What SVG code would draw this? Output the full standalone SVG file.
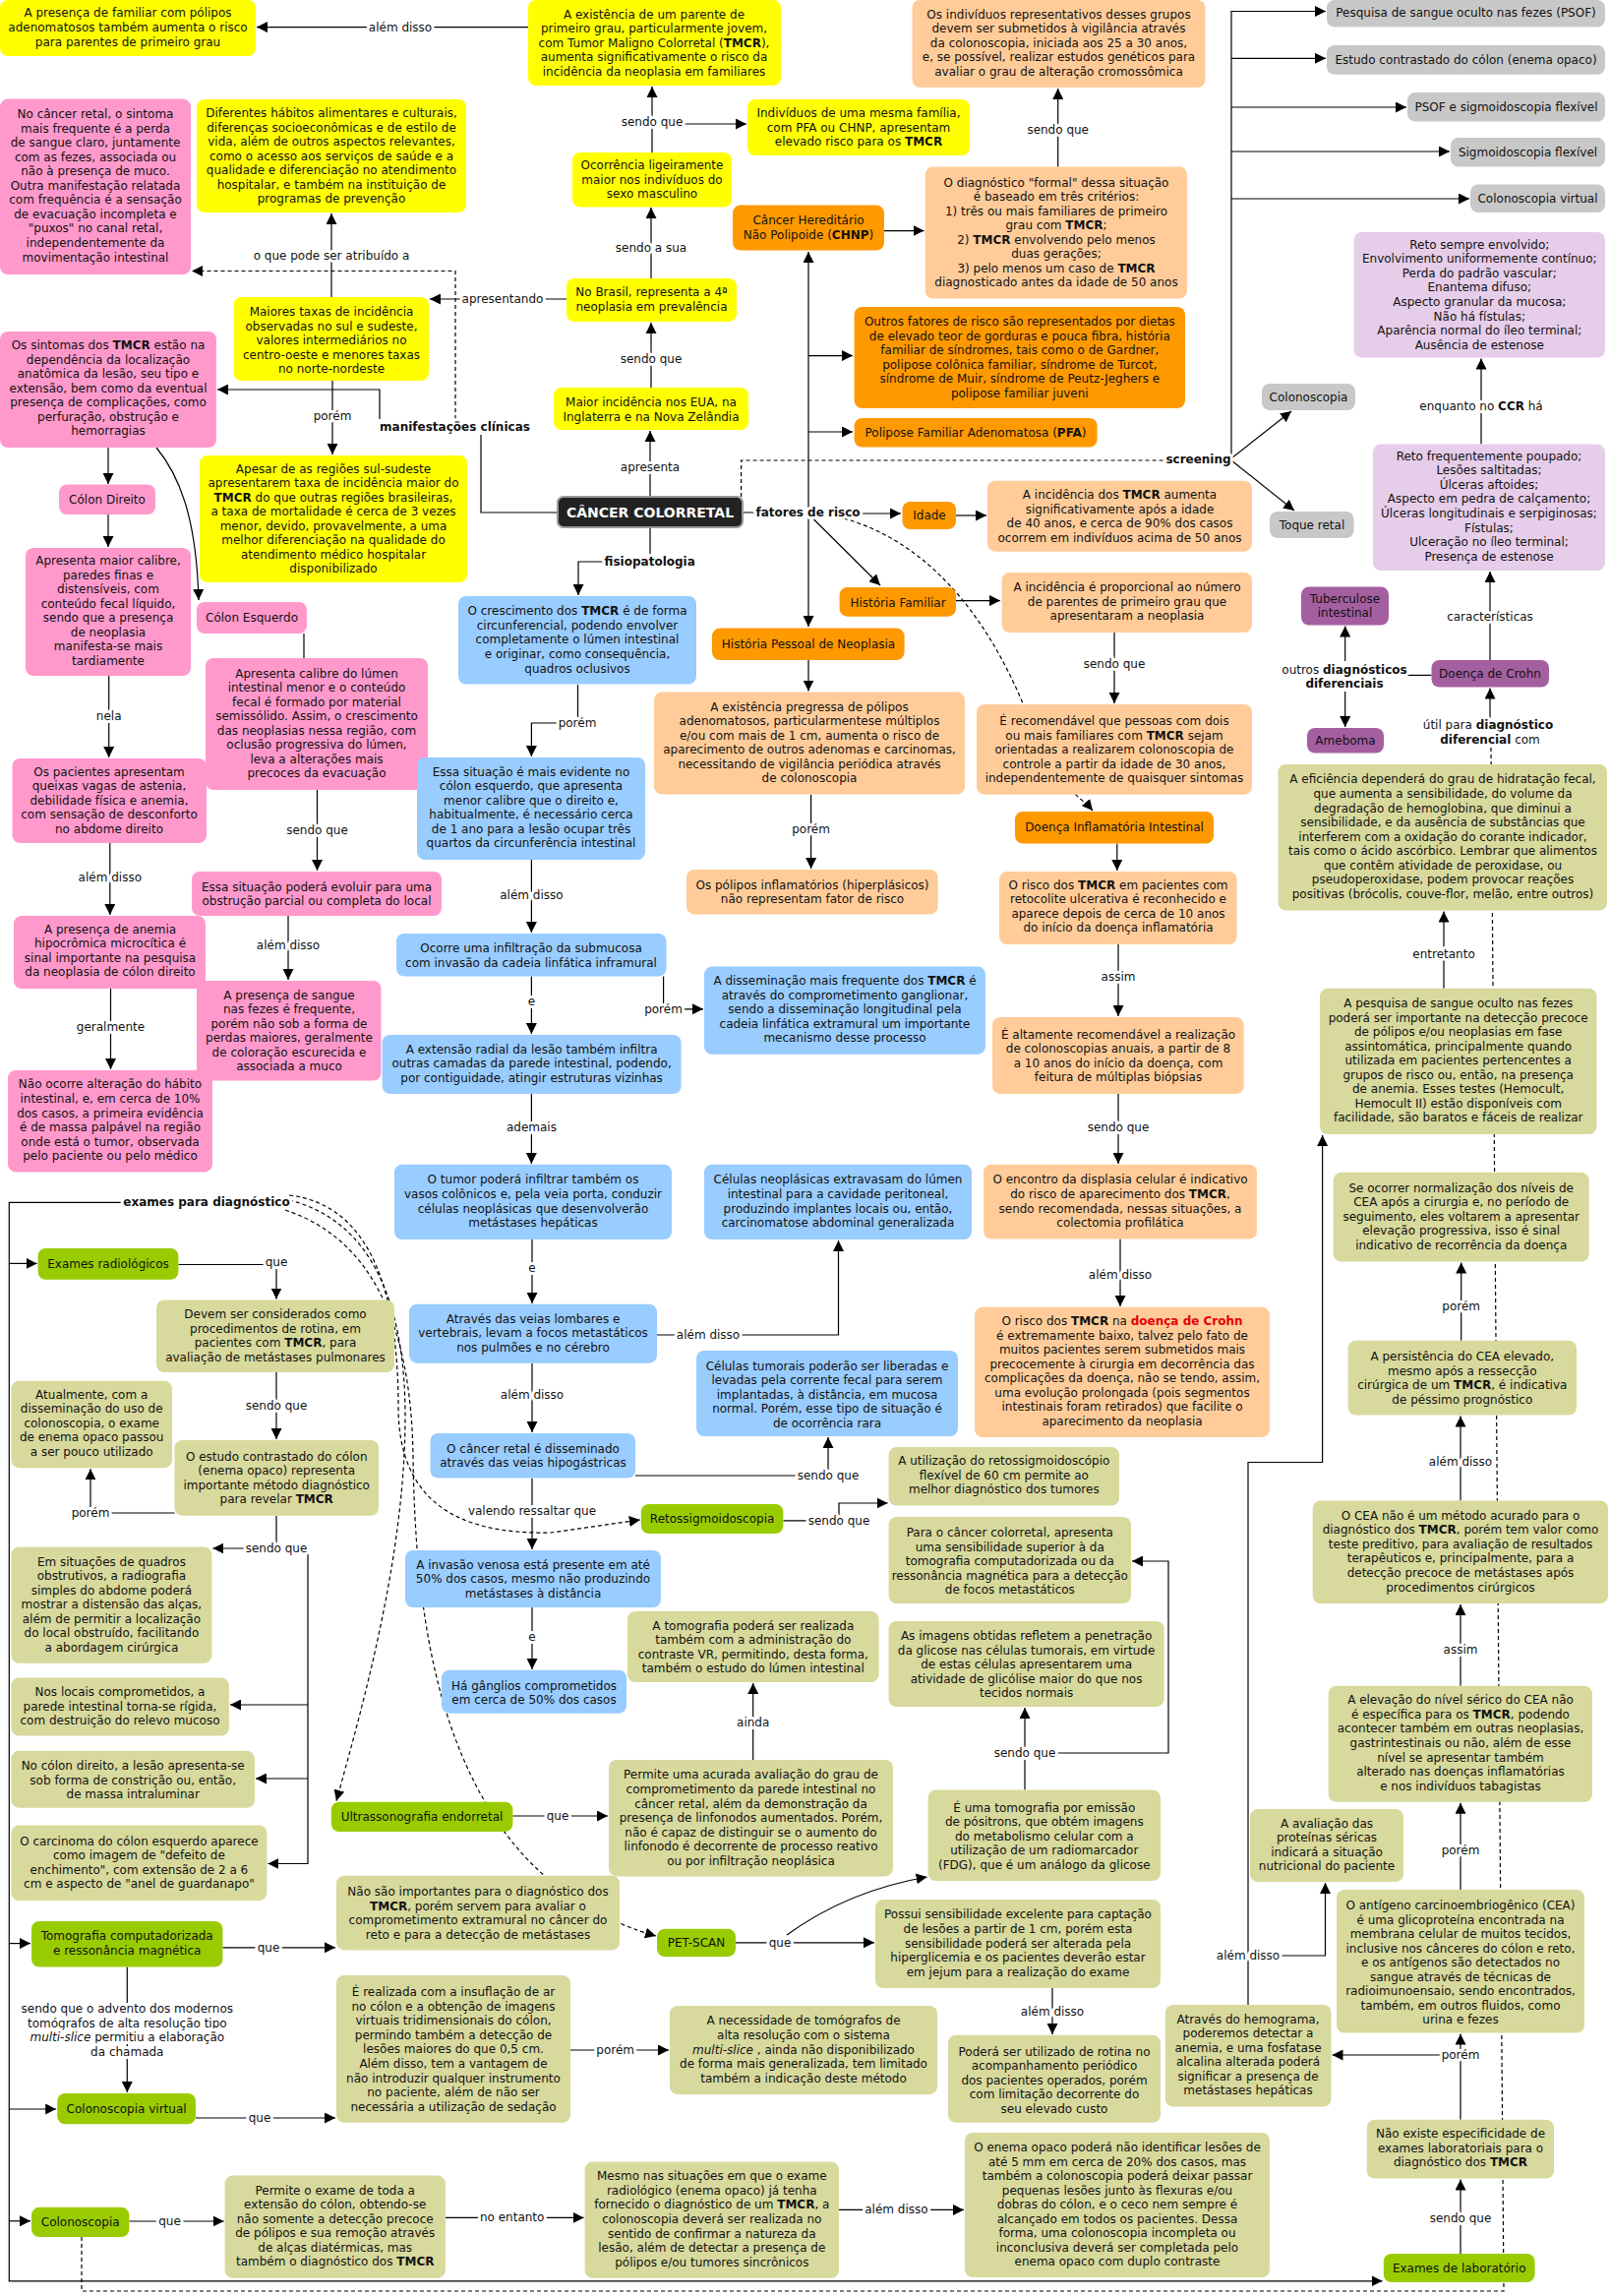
<svg xmlns="http://www.w3.org/2000/svg" width="1637" height="2334" viewBox="0 0 1637 2334">
<style>
text{font-family:"DejaVu Sans",Verdana,sans-serif;font-size:12px;fill:#111;text-anchor:middle}
.b{font-weight:bold}
.i{font-style:italic}
.lb{paint-order:stroke;stroke:#fff;stroke-width:6px;stroke-linejoin:round}
.c{fill:none;stroke:#000;stroke-width:1.2}
.d{stroke-dasharray:4,3}
.Y{fill:#ffff00}.P{fill:#ff99cc}.O{fill:#ff9900}.L{fill:#ffcc99}.B{fill:#99ccff}.G{fill:#c8c8c8}.V{fill:#e6cde9}.U{fill:#a45fa1}.K{fill:#d8d99c}.E{fill:#99cc00}
</style>
<defs>
<marker id="a" viewBox="0 0 10 10" refX="10" refY="5" markerWidth="11" markerHeight="11" markerUnits="userSpaceOnUse" orient="auto"><path d="M0,0 L10,5 L0,10 z" fill="#000"/></marker>
</defs>
<rect width="1637" height="2334" fill="#fff"/>
<g id="connectors">
<path class="c" d="M537,27.6 H261" marker-end="url(#a)"/>
<path class="c" d="M663,155 V88" marker-end="url(#a)"/>
<path class="c" d="M663,126 H759" marker-end="url(#a)"/>
<path class="c" d="M662,283 V211" marker-end="url(#a)"/>
<path class="c" d="M576,304 H437" marker-end="url(#a)"/>
<path class="c" d="M662,394 V328" marker-end="url(#a)"/>
<path class="c" d="M661,505 V438" marker-end="url(#a)"/>
<path class="c" d="M337,302 V217" marker-end="url(#a)"/>
<path class="c" d="M338,387 V462" marker-end="url(#a)"/>
<path class="c" d="M567,521 H489 V442"/>
<path class="c" d="M386,426 V396 H221" marker-end="url(#a)"/>
<path class="c d" d="M463,426 V275.5 H195" marker-end="url(#a)"/>
<path class="c" d="M110,455 V492" marker-end="url(#a)"/>
<path class="c" d="M110,523 V556" marker-end="url(#a)"/>
<path class="c" d="M159,455 C188,490 200,540 202,610" marker-end="url(#a)"/>
<path class="c" d="M309,644 V669"/>
<path class="c" d="M110.7,687 V770" marker-end="url(#a)"/>
<path class="c" d="M322.5,803 V885" marker-end="url(#a)"/>
<path class="c" d="M111.8,857 V930" marker-end="url(#a)"/>
<path class="c" d="M293,931 V996" marker-end="url(#a)"/>
<path class="c" d="M112.5,1005 V1087" marker-end="url(#a)"/>
<path class="c" d="M661,536 V563"/>
<path class="c" d="M615,571 H588 V605" marker-end="url(#a)"/>
<path class="c" d="M587.5,696 V735 H540.4 V769" marker-end="url(#a)"/>
<path class="c" d="M540.4,874 V948" marker-end="url(#a)"/>
<path class="c" d="M540.4,992.5 V1051" marker-end="url(#a)"/>
<path class="c" d="M674.6,992.5 V1025.8 H715" marker-end="url(#a)"/>
<path class="c" d="M540.4,1112 V1183" marker-end="url(#a)"/>
<path class="c" d="M541,1260 V1325" marker-end="url(#a)"/>
<path class="c" d="M668,1357 H852.5 V1261" marker-end="url(#a)"/>
<path class="c" d="M541,1386 V1456" marker-end="url(#a)"/>
<path class="c" d="M646,1500 H842 V1461" marker-end="url(#a)"/>
<path class="c" d="M541,1502.5 V1575" marker-end="url(#a)"/>
<path class="c" d="M541,1634 V1697" marker-end="url(#a)"/>
<path class="c" d="M755,521 H874"/>
<path class="c" d="M874,522 H916" marker-end="url(#a)"/>
<path class="c" d="M972,524 H1003" marker-end="url(#a)"/>
<path class="c" d="M822,521 V256" marker-end="url(#a)"/>
<path class="c" d="M822,521 V637" marker-end="url(#a)"/>
<path class="c" d="M822,361.6 H867" marker-end="url(#a)"/>
<path class="c" d="M822,439 H867" marker-end="url(#a)"/>
<path class="c" d="M827.5,528 L895,595" marker-end="url(#a)"/>
<path class="c" d="M972,610.6 H1017" marker-end="url(#a)"/>
<path class="c" d="M1133,643 V715" marker-end="url(#a)"/>
<path class="c d" d="M858,527 C940,550 1000,620 1040,715 S1095,805 1111,824" marker-end="url(#a)"/>
<path class="c" d="M899,234.6 H939.5" marker-end="url(#a)"/>
<path class="c" d="M1075.7,169.5 V90" marker-end="url(#a)"/>
<path class="c" d="M1135.8,857.5 V885" marker-end="url(#a)"/>
<path class="c" d="M1137,960 V1033" marker-end="url(#a)"/>
<path class="c" d="M1137,1112 V1183" marker-end="url(#a)"/>
<path class="c" d="M1139,1259.5 V1328" marker-end="url(#a)"/>
<path class="c" d="M822,671 V702.6" marker-end="url(#a)"/>
<path class="c" d="M824.6,807.7 V883" marker-end="url(#a)"/>
<path class="c d" d="M753.6,505 V468 H1186"/>
<path class="c" d="M1252,467 V11.5 H1348" marker-end="url(#a)"/>
<path class="c" d="M1252,59.3 H1348" marker-end="url(#a)"/>
<path class="c" d="M1252,109 H1430" marker-end="url(#a)"/>
<path class="c" d="M1252,154 H1474" marker-end="url(#a)"/>
<path class="c" d="M1252,202 H1494" marker-end="url(#a)"/>
<path class="c" d="M1252,466 L1313,418" marker-end="url(#a)"/>
<path class="c" d="M1252,468 L1316,519" marker-end="url(#a)"/>
<path class="c" d="M1506,451.6 V364.5" marker-end="url(#a)"/>
<path class="c" d="M1515,671 V581" marker-end="url(#a)"/>
<path class="c" d="M1455.5,686.4 H1431"/>
<path class="c" d="M1367.7,672 V636.5" marker-end="url(#a)"/>
<path class="c" d="M1367.7,703 V739" marker-end="url(#a)"/>
<path class="c" d="M1515,730 V699.5" marker-end="url(#a)"/>
<path class="c d" d="M83,2274 V2329 H1529 L1516,760"/>
<path class="c" d="M1468,1004.8 V926.6" marker-end="url(#a)"/>
<path class="c" d="M1269,2038 V1486.5 H1344.6 V1154" marker-end="url(#a)"/>
<path class="c" d="M1269,1988 H1347.5 V1914" marker-end="url(#a)"/>
<path class="c" d="M1485.7,1362.8 V1283.5" marker-end="url(#a)"/>
<path class="c" d="M1485,1525.5 V1439.6" marker-end="url(#a)"/>
<path class="c" d="M1485,1713.8 V1631" marker-end="url(#a)"/>
<path class="c" d="M1485,1921 V1832.7" marker-end="url(#a)"/>
<path class="c" d="M1485,2154.8 V2067.5" marker-end="url(#a)"/>
<path class="c" d="M1485,2089 H1354.5" marker-end="url(#a)"/>
<path class="c" d="M1485,2291 V2215.6" marker-end="url(#a)"/>
<path class="c" d="M125,1222.4 H9.3 V2318.8 H1405.5" marker-end="url(#a)"/>
<path class="c" d="M9.3,1284.4 H37.6" marker-end="url(#a)"/>
<path class="c" d="M9.3,1975.6 H31" marker-end="url(#a)"/>
<path class="c" d="M9.3,2144 H57.2" marker-end="url(#a)"/>
<path class="c" d="M9.3,2257.8 H31" marker-end="url(#a)"/>
<path class="c" d="M181.4,1285.5 H281 V1320.5" marker-end="url(#a)"/>
<path class="c" d="M281,1395 V1463" marker-end="url(#a)"/>
<path class="c" d="M177.5,1538 H92 V1493.2" marker-end="url(#a)"/>
<path class="c" d="M281,1540.8 V1574 H216.4" marker-end="url(#a)"/>
<path class="c" d="M281,1574 H313 V1894.5 H272.4" marker-end="url(#a)"/>
<path class="c" d="M313,1733 H234" marker-end="url(#a)"/>
<path class="c" d="M313,1808 H260" marker-end="url(#a)"/>
<path class="c" d="M226.4,1979.8 H341" marker-end="url(#a)"/>
<path class="c" d="M129.3,1999.5 V2127" marker-end="url(#a)"/>
<path class="c" d="M199,2153 H341" marker-end="url(#a)"/>
<path class="c" d="M131.4,2258 H227.6" marker-end="url(#a)"/>
<path class="c" d="M452.9,2254.4 H593.6" marker-end="url(#a)"/>
<path class="c" d="M853,2246.4 H980" marker-end="url(#a)"/>
<path class="c" d="M580,2084 H680" marker-end="url(#a)"/>
<path class="c" d="M521.4,1846 H618" marker-end="url(#a)"/>
<path class="c" d="M765.7,1789 V1711" marker-end="url(#a)"/>
<path class="c" d="M748,1974.8 H889" marker-end="url(#a)"/>
<path class="c" d="M800,1967 Q862,1922 942.6,1908" marker-end="url(#a)"/>
<path class="c" d="M1042,1819.5 V1736" marker-end="url(#a)"/>
<path class="c" d="M1042,1782 H1188 V1587 H1151" marker-end="url(#a)"/>
<path class="c" d="M1070,2021 V2068" marker-end="url(#a)"/>
<path class="c" d="M796.4,1545.8 H853 V1528 H902.6" marker-end="url(#a)"/>
<path class="c d" d="M294,1215 C380,1225 405,1320 405,1430 C405,1530 470,1560 560,1558 L650.8,1545" marker-end="url(#a)"/>
<path class="c d" d="M294,1220 C375,1240 412,1320 412,1440 C412,1580 370,1730 342,1830.7" marker-end="url(#a)"/>
<path class="c d" d="M290,1230 C380,1260 418,1350 420,1480 C422,1640 445,1770 515,1865 C560,1925 620,1955 667,1968" marker-end="url(#a)"/>
</g>
<g id="nodes">
<g id="n-familiar-polipos"><rect class="Y" x="0" y="0" width="260" height="57" rx="8"/><text x="130" y="17.4"><tspan x="130">A presença de familiar com pólipos</tspan><tspan x="130" dy="14.55">adenomatosos também aumenta o risco</tspan><tspan x="130" dy="14.55">para parentes de primeiro grau</tspan></text></g>
<g id="n-parente"><rect class="Y" x="537" y="0" width="257" height="87" rx="8"/><text x="665" y="18.5"><tspan x="665">A existência de um parente de</tspan><tspan x="665" dy="14.55">primeiro grau, particularmente jovem,</tspan><tspan x="665" dy="14.55">com Tumor Maligno Colorretal (<tspan class="b">TMCR</tspan>),</tspan><tspan x="665" dy="14.55">aumenta significativamente o risco da</tspan><tspan x="665" dy="14.55">incidência da neoplasia em familiares</tspan></text></g>
<g id="n-individuos"><rect class="Y" x="760" y="101" width="226" height="57" rx="8"/><text x="873" y="119"><tspan x="873">Indivíduos de uma mesma família,</tspan><tspan x="873" dy="14.55">com PFA ou CHNP, apresentam</tspan><tspan x="873" dy="14.55">elevado risco para os <tspan class="b">TMCR</tspan></tspan></text></g>
<g id="n-ocorrencia"><rect class="Y" x="582" y="155" width="162" height="55.5" rx="8"/><text x="663" y="172"><tspan x="663">Ocorrência ligeiramente</tspan><tspan x="663" dy="14.55">maior nos indivíduos do</tspan><tspan x="663" dy="14.55">sexo masculino</tspan></text></g>
<g id="n-brasil"><rect class="Y" x="576" y="283" width="173" height="44" rx="8"/><text x="662.5" y="301"><tspan x="662.5">No Brasil, representa a 4ª</tspan><tspan x="662.5" dy="14.55">neoplasia em prevalência</tspan></text></g>
<g id="n-maior-incidencia"><rect class="Y" x="563" y="394" width="198" height="43" rx="8"/><text x="662" y="413"><tspan x="662">Maior incidência nos EUA, na</tspan><tspan x="662" dy="14.55">Inglaterra e na Nova Zelândia</tspan></text></g>
<g id="n-cancer"><rect x="567" y="505" width="188" height="31" rx="6" fill="#222" stroke="#999" stroke-width="2"/><text x="661" y="526" class="b" style="fill:#fff;font-size:14px">CÂNCER COLORRETAL</text></g>
<g id="n-cancer-retal"><rect class="P" x="0" y="100.6" width="194" height="178.4" rx="8"/><text x="97" y="120"><tspan x="97">No câncer retal, o sintoma</tspan><tspan x="97" dy="14.55">mais frequente é a perda</tspan><tspan x="97" dy="14.55">de sangue claro, juntamente</tspan><tspan x="97" dy="14.55">com as fezes, associada ou</tspan><tspan x="97" dy="14.55">não à presença de muco.</tspan><tspan x="97" dy="14.55">Outra manifestação relatada</tspan><tspan x="97" dy="14.55">com frequência é a sensação</tspan><tspan x="97" dy="14.55">de evacuação incompleta e</tspan><tspan x="97" dy="14.55">"puxos" no canal retal,</tspan><tspan x="97" dy="14.55">independentemente da</tspan><tspan x="97" dy="14.55">movimentação intestinal</tspan></text></g>
<g id="n-habitos"><rect class="Y" x="200" y="101" width="274" height="115" rx="8"/><text x="337" y="119"><tspan x="337">Diferentes hábitos alimentares e culturais,</tspan><tspan x="337" dy="14.55">diferenças socioeconômicas e de estilo de</tspan><tspan x="337" dy="14.55">vida, além de outros aspectos relevantes,</tspan><tspan x="337" dy="14.55">como o acesso aos serviços de saúde e a</tspan><tspan x="337" dy="14.55">qualidade e diferenciação no atendimento</tspan><tspan x="337" dy="14.55">hospitalar, e também na instituição de</tspan><tspan x="337" dy="14.55">programas de prevenção</tspan></text></g>
<g id="n-maiores-taxas"><rect class="Y" x="237.5" y="302" width="198.5" height="85" rx="8"/><text x="337" y="321"><tspan x="337">Maiores taxas de incidência</tspan><tspan x="337" dy="14.55">observadas no sul e sudeste,</tspan><tspan x="337" dy="14.55">valores intermediários no</tspan><tspan x="337" dy="14.55">centro-oeste e menores taxas</tspan><tspan x="337" dy="14.55">no norte-nordeste</tspan></text></g>
<g id="n-sintomas"><rect class="P" x="0" y="337" width="220" height="118" rx="8"/><text x="110" y="355"><tspan x="110">Os sintomas dos <tspan class="b">TMCR</tspan> estão na</tspan><tspan x="110" dy="14.55">dependência da localização</tspan><tspan x="110" dy="14.55">anatômica da lesão, seu tipo e</tspan><tspan x="110" dy="14.55">extensão, bem como da eventual</tspan><tspan x="110" dy="14.55">presença de complicações, como</tspan><tspan x="110" dy="14.55">perfuração, obstrução e</tspan><tspan x="110" dy="14.55">hemorragias</tspan></text></g>
<g id="n-apesar"><rect class="Y" x="203" y="463" width="272" height="129" rx="8"/><text x="339" y="480.5"><tspan x="339">Apesar de as regiões sul-sudeste</tspan><tspan x="339" dy="14.55">apresentarem taxa de incidência maior do</tspan><tspan x="339" dy="14.55"><tspan class="b">TMCR</tspan> do que outras regiões brasileiras,</tspan><tspan x="339" dy="14.55">a taxa de mortalidade é cerca de 3 vezes</tspan><tspan x="339" dy="14.55">menor, devido, provavelmente, a uma</tspan><tspan x="339" dy="14.55">melhor diferenciação na qualidade do</tspan><tspan x="339" dy="14.55">atendimento médico hospitalar</tspan><tspan x="339" dy="14.55">disponibilizado</tspan></text></g>
<g id="n-colon-direito"><rect class="P" x="60" y="492.5" width="98" height="30.5" rx="8"/><text x="109" y="512">Cólon Direito</text></g>
<g id="n-maior-calibre"><rect class="P" x="26" y="557" width="168" height="130" rx="8"/><text x="110" y="574"><tspan x="110">Apresenta maior calibre,</tspan><tspan x="110" dy="14.55">paredes finas e</tspan><tspan x="110" dy="14.55">distensíveis, com</tspan><tspan x="110" dy="14.55">conteúdo fecal líquido,</tspan><tspan x="110" dy="14.55">sendo que a presença</tspan><tspan x="110" dy="14.55">de neoplasia</tspan><tspan x="110" dy="14.55">manifesta-se mais</tspan><tspan x="110" dy="14.55">tardiamente</tspan></text></g>
<g id="n-colon-esquerdo"><rect class="P" x="200" y="612" width="112" height="32" rx="8"/><text x="256" y="632">Cólon Esquerdo</text></g>
<g id="n-calibre-lumen"><rect class="P" x="209" y="669" width="226" height="134" rx="8"/><text x="322" y="688.5"><tspan x="322">Apresenta calibre do lúmen</tspan><tspan x="322" dy="14.55">intestinal menor e o conteúdo</tspan><tspan x="322" dy="14.55">fecal é formado por material</tspan><tspan x="322" dy="14.55">semissólido. Assim, o crescimento</tspan><tspan x="322" dy="14.55">das neoplasias nessa região, com</tspan><tspan x="322" dy="14.55">oclusão progressiva do lúmen,</tspan><tspan x="322" dy="14.55">leva a alterações mais</tspan><tspan x="322" dy="14.55">precoces da evacuação</tspan></text></g>
<g id="n-pacientes"><rect class="P" x="12.5" y="771" width="197.5" height="86" rx="8"/><text x="111" y="788.7"><tspan x="111">Os pacientes apresentam</tspan><tspan x="111" dy="14.55">queixas vagas de astenia,</tspan><tspan x="111" dy="14.55">debilidade física e anemia,</tspan><tspan x="111" dy="14.55">com sensação de desconforto</tspan><tspan x="111" dy="14.55">no abdome direito</tspan></text></g>
<g id="n-obstrucao"><rect class="P" x="195" y="886" width="254" height="45" rx="8"/><text x="322" y="905.5"><tspan x="322">Essa situação poderá evoluir para uma</tspan><tspan x="322" dy="14.55">obstrução parcial ou completa do local</tspan></text></g>
<g id="n-sangue"><rect class="P" x="200" y="997" width="187.5" height="101.6" rx="8"/><text x="294" y="1015.7"><tspan x="294">A presença de sangue</tspan><tspan x="294" dy="14.55">nas fezes é frequente,</tspan><tspan x="294" dy="14.55">porém não sob a forma de</tspan><tspan x="294" dy="14.55">perdas maiores, geralmente</tspan><tspan x="294" dy="14.55">de coloração escurecida e</tspan><tspan x="294" dy="14.55">associada a muco</tspan></text></g>
<g id="n-anemia"><rect class="P" x="14" y="931" width="195" height="74" rx="8"/><text x="112" y="948.7"><tspan x="112">A presença de anemia</tspan><tspan x="112" dy="14.55">hipocrômica microcítica é</tspan><tspan x="112" dy="14.55">sinal importante na pesquisa</tspan><tspan x="112" dy="14.55">da neoplasia de cólon direito</tspan></text></g>
<g id="n-nao-ocorre"><rect class="P" x="8" y="1088" width="208" height="103.4" rx="8"/><text x="112" y="1106.4"><tspan x="112">Não ocorre alteração do hábito</tspan><tspan x="112" dy="14.55">intestinal, e, em cerca de 10%</tspan><tspan x="112" dy="14.55">dos casos, a primeira evidência</tspan><tspan x="112" dy="14.55">é de massa palpável na região</tspan><tspan x="112" dy="14.55">onde está o tumor, observada</tspan><tspan x="112" dy="14.55">pelo paciente ou pelo médico</tspan></text></g>
<g id="n-crescimento"><rect class="B" x="466" y="606" width="242" height="89.6" rx="8"/><text x="587" y="625.3"><tspan x="587">O crescimento dos <tspan class="b">TMCR</tspan> é de forma</tspan><tspan x="587" dy="14.55">circunferencial, podendo envolver</tspan><tspan x="587" dy="14.55">completamente o lúmen intestinal</tspan><tspan x="587" dy="14.55">e originar, como consequência,</tspan><tspan x="587" dy="14.55">quadros oclusivos</tspan></text></g>
<g id="n-mais-evidente"><rect class="B" x="424" y="770" width="232" height="104" rx="8"/><text x="540" y="788.7"><tspan x="540">Essa situação é mais evidente no</tspan><tspan x="540" dy="14.55">cólon esquerdo, que apresenta</tspan><tspan x="540" dy="14.55">menor calibre que o direito e,</tspan><tspan x="540" dy="14.55">habitualmente, é necessário cerca</tspan><tspan x="540" dy="14.55">de 1 ano para a lesão ocupar três</tspan><tspan x="540" dy="14.55">quartos da circunferência intestinal</tspan></text></g>
<g id="n-infiltracao"><rect class="B" x="403" y="949" width="274.5" height="43.5" rx="8"/><text x="540" y="968"><tspan x="540">Ocorre uma infiltração da submucosa</tspan><tspan x="540" dy="14.55">com invasão da cadeia linfática inframural</tspan></text></g>
<g id="n-disseminacao"><rect class="B" x="716" y="982.6" width="286" height="89.2" rx="8"/><text x="859" y="1001.2"><tspan x="859">A disseminação mais frequente dos <tspan class="b">TMCR</tspan> é</tspan><tspan x="859" dy="14.55">através do comprometimento ganglionar,</tspan><tspan x="859" dy="14.55">sendo a disseminação longitudinal pela</tspan><tspan x="859" dy="14.55">cadeia linfática extramural um importante</tspan><tspan x="859" dy="14.55">mecanismo desse processo</tspan></text></g>
<g id="n-extensao"><rect class="B" x="388.6" y="1052" width="304" height="60" rx="8"/><text x="540.6" y="1070.8"><tspan x="540.6">A extensão radial da lesão também infiltra</tspan><tspan x="540.6" dy="14.55">outras camadas da parede intestinal, podendo,</tspan><tspan x="540.6" dy="14.55">por contiguidade, atingir estruturas vizinhas</tspan></text></g>
<g id="n-tumor"><rect class="B" x="401" y="1183.7" width="282" height="76.3" rx="8"/><text x="542" y="1203.4"><tspan x="542">O tumor poderá infiltrar também os</tspan><tspan x="542" dy="14.55">vasos colônicos e, pela veia porta, conduzir</tspan><tspan x="542" dy="14.55">células neoplásicas que desenvolverão</tspan><tspan x="542" dy="14.55">metástases hepáticas</tspan></text></g>
<g id="n-extravasam"><rect class="B" x="716" y="1183.7" width="272" height="76.3" rx="8"/><text x="852" y="1203.4"><tspan x="852">Células neoplásicas extravasam do lúmen</tspan><tspan x="852" dy="14.55">intestinal para a cavidade peritoneal,</tspan><tspan x="852" dy="14.55">produzindo implantes locais ou, então,</tspan><tspan x="852" dy="14.55">carcinomatose abdominal generalizada</tspan></text></g>
<g id="n-veias-lombares"><rect class="B" x="416" y="1325.7" width="252" height="60" rx="8"/><text x="542" y="1344.6"><tspan x="542">Através das veias lombares e</tspan><tspan x="542" dy="14.55">vertebrais, levam a focos metastáticos</tspan><tspan x="542" dy="14.55">nos pulmões e no cérebro</tspan></text></g>
<g id="n-hipogastricas"><rect class="B" x="437.5" y="1457" width="208.5" height="45.5" rx="8"/><text x="542" y="1476.7"><tspan x="542">O câncer retal é disseminado</tspan><tspan x="542" dy="14.55">através das veias hipogástricas</tspan></text></g>
<g id="n-celulas-tumorais"><rect class="B" x="708" y="1373" width="266" height="87" rx="8"/><text x="841" y="1392.5"><tspan x="841">Células tumorais poderão ser liberadas e</tspan><tspan x="841" dy="14.55">levadas pela corrente fecal para serem</tspan><tspan x="841" dy="14.55">implantadas, à distância, em mucosa</tspan><tspan x="841" dy="14.55">normal. Porém, esse tipo de situação é</tspan><tspan x="841" dy="14.55">de ocorrência rara</tspan></text></g>
<g id="n-invasao-venosa"><rect class="B" x="412" y="1576" width="260" height="58" rx="8"/><text x="542" y="1594.5"><tspan x="542">A invasão venosa está presente em até</tspan><tspan x="542" dy="14.55">50% dos casos, mesmo não produzindo</tspan><tspan x="542" dy="14.55">metástases à distância</tspan></text></g>
<g id="n-ganglios"><rect class="B" x="449" y="1697.7" width="188" height="44" rx="8"/><text x="543" y="1717.8"><tspan x="543">Há gânglios comprometidos</tspan><tspan x="543" dy="14.55">em cerca de 50% dos casos</tspan></text></g>
<g id="n-hist-pessoal"><rect class="O" x="724" y="638.6" width="195.6" height="32.4" rx="8"/><text x="822" y="658.6">História Pessoal de Neoplasia</text></g>
<g id="n-pregressa"><rect class="L" x="665" y="703.6" width="316" height="104" rx="8"/><text x="823" y="722.5"><tspan x="823">A existência pregressa de pólipos</tspan><tspan x="823" dy="14.55">adenomatosos, particularmentese múltiplos</tspan><tspan x="823" dy="14.55">e/ou com mais de 1 cm, aumenta o risco de</tspan><tspan x="823" dy="14.55">aparecimento de outros adenomas e carcinomas,</tspan><tspan x="823" dy="14.55">necessitando de vigilância periódica através</tspan><tspan x="823" dy="14.55">de colonoscopia</tspan></text></g>
<g id="n-inflamatorios"><rect class="L" x="698" y="884" width="255.6" height="45.4" rx="8"/><text x="826" y="903.6"><tspan x="826">Os pólipos inflamatórios (hiperplásicos)</tspan><tspan x="826" dy="14.55">não representam fator de risco</tspan></text></g>
<g id="n-hist-familiar"><rect class="O" x="853.6" y="597" width="118.4" height="29.7" rx="8"/><text x="913" y="616.5">História Familiar</text></g>
<g id="n-idade"><rect class="O" x="917.5" y="510" width="54.5" height="28" rx="8"/><text x="945" y="528">Idade</text></g>
<g id="n-incid-aumenta"><rect class="L" x="1004" y="488.7" width="269" height="72" rx="8"/><text x="1138.5" y="507"><tspan x="1138.5">A incidência dos <tspan class="b">TMCR</tspan> aumenta</tspan><tspan x="1138.5" dy="14.55">significativamente após a idade</tspan><tspan x="1138.5" dy="14.55">de 40 anos, e cerca de 90% dos casos</tspan><tspan x="1138.5" dy="14.55">ocorrem em indivíduos acima de 50 anos</tspan></text></g>
<g id="n-incid-proporcional"><rect class="L" x="1018.6" y="582" width="254.4" height="61" rx="8"/><text x="1146" y="601"><tspan x="1146">A incidência é proporcional ao número</tspan><tspan x="1146" dy="14.55">de parentes de primeiro grau que</tspan><tspan x="1146" dy="14.55">apresentaram a neoplasia</tspan></text></g>
<g id="n-recomendavel"><rect class="L" x="993" y="716" width="280" height="91.7" rx="8"/><text x="1133" y="737"><tspan x="1133">É recomendável que pessoas com dois</tspan><tspan x="1133" dy="14.55">ou mais familiares com <tspan class="b">TMCR</tspan> sejam</tspan><tspan x="1133" dy="14.55">orientadas a realizarem colonoscopia de</tspan><tspan x="1133" dy="14.55">controle a partir da idade de 30 anos,</tspan><tspan x="1133" dy="14.55">independentemente de quaisquer sintomas</tspan></text></g>
<g id="n-dii"><rect class="O" x="1032" y="825" width="202" height="32.5" rx="8"/><text x="1133" y="845.4">Doença Inflamatória Intestinal</text></g>
<g id="n-retocolite"><rect class="L" x="1016" y="886" width="241.6" height="74" rx="8"/><text x="1137" y="903.6"><tspan x="1137">O risco dos <tspan class="b">TMCR</tspan> em pacientes com</tspan><tspan x="1137" dy="14.55">retocolite ulcerativa é reconhecido e</tspan><tspan x="1137" dy="14.55">aparece depois de cerca de 10 anos</tspan><tspan x="1137" dy="14.55">do início da doença inflamatória</tspan></text></g>
<g id="n-altamente"><rect class="L" x="1009" y="1034" width="255.7" height="78" rx="8"/><text x="1137" y="1055.5"><tspan x="1137">É altamente recomendável a realização</tspan><tspan x="1137" dy="14.55">de colonoscopias anuais, a partir de 8</tspan><tspan x="1137" dy="14.55">a 10 anos do início da doença, com</tspan><tspan x="1137" dy="14.55">feitura de múltiplas biópsias</tspan></text></g>
<g id="n-displasia"><rect class="L" x="1000" y="1183.7" width="278" height="75.8" rx="8"/><text x="1139" y="1203.4"><tspan x="1139">O encontro da displasia celular é indicativo</tspan><tspan x="1139" dy="14.55">do risco de aparecimento dos <tspan class="b">TMCR</tspan>,</tspan><tspan x="1139" dy="14.55">sendo recomendada, nessas situações, a</tspan><tspan x="1139" dy="14.55">colectomia profilática</tspan></text></g>
<g id="n-risco-crohn"><rect class="L" x="991" y="1328.8" width="300" height="132.2" rx="8"/><text x="1141" y="1347"><tspan x="1141">O risco dos <tspan class="b">TMCR</tspan> na <tspan class="b" style="fill:#e60000">doença de Crohn</tspan></tspan><tspan x="1141" dy="14.55">é extremamente baixo, talvez pelo fato de</tspan><tspan x="1141" dy="14.55">muitos pacientes serem submetidos mais</tspan><tspan x="1141" dy="14.55">precocemente à cirurgia em decorrência das</tspan><tspan x="1141" dy="14.55">complicações da doença, não se tendo, assim,</tspan><tspan x="1141" dy="14.55">uma evolução prolongada (pois segmentos</tspan><tspan x="1141" dy="14.55">intestinais foram retirados) que facilite o</tspan><tspan x="1141" dy="14.55">aparecimento da neoplasia</tspan></text></g>
<g id="n-chnp"><rect class="O" x="745" y="208.6" width="154" height="46" rx="8"/><text x="822" y="228"><tspan x="822">Câncer Hereditário</tspan><tspan x="822" dy="14.55">Não Polipoide (<tspan class="b">CHNP</tspan>)</tspan></text></g>
<g id="n-diag-formal"><rect class="L" x="940.7" y="169.5" width="266.3" height="134" rx="8"/><text x="1074" y="189.6"><tspan x="1074">O diagnóstico "formal" dessa situação</tspan><tspan x="1074" dy="14.55">é baseado em três critérios:</tspan><tspan x="1074" dy="14.55">1) três ou mais familiares de primeiro</tspan><tspan x="1074" dy="14.55">grau com <tspan class="b">TMCR</tspan>;</tspan><tspan x="1074" dy="14.55">2) <tspan class="b">TMCR</tspan> envolvendo pelo menos</tspan><tspan x="1074" dy="14.55">duas gerações;</tspan><tspan x="1074" dy="14.55">3) pelo menos um caso de <tspan class="b">TMCR</tspan></tspan><tspan x="1074" dy="14.55">diagnosticado antes da idade de 50 anos</tspan></text></g>
<g id="n-representativos"><rect class="L" x="927.5" y="0" width="298" height="89" rx="8"/><text x="1076.5" y="18.5"><tspan x="1076.5">Os indivíduos representativos desses grupos</tspan><tspan x="1076.5" dy="14.55">devem ser submetidos à vigilância através</tspan><tspan x="1076.5" dy="14.55">da colonoscopia, iniciada aos 25 a 30 anos,</tspan><tspan x="1076.5" dy="14.55">e, se possível, realizar estudos genéticos para</tspan><tspan x="1076.5" dy="14.55">avaliar o grau de alteração cromossômica</tspan></text></g>
<g id="n-outros-fatores"><rect class="O" x="868.6" y="312" width="336.4" height="103" rx="8"/><text x="1036.8" y="331"><tspan x="1036.8">Outros fatores de risco são representados por dietas</tspan><tspan x="1036.8" dy="14.55">de elevado teor de gorduras e pouca fibra, história</tspan><tspan x="1036.8" dy="14.55">familiar de síndromes, tais como o de Gardner,</tspan><tspan x="1036.8" dy="14.55">polipose colônica familiar, síndrome de Turcot,</tspan><tspan x="1036.8" dy="14.55">síndrome de Muir, síndrome de Peutz-Jeghers e</tspan><tspan x="1036.8" dy="14.55">polipose familiar juveni</tspan></text></g>
<g id="n-pfa"><rect class="O" x="868.6" y="425" width="247" height="29.6" rx="8"/><text x="992" y="443.5">Polipose Familiar Adenomatosa (<tspan class="b">PFA</tspan>)</text></g>
<g id="n-psof"><rect class="G" x="1349" y="0" width="283" height="27.5" rx="8"/><text x="1490.5" y="17">Pesquisa de sangue oculto nas fezes (PSOF)</text></g>
<g id="n-estudo-contrastado"><rect class="G" x="1349" y="46" width="283" height="29.8" rx="8"/><text x="1490.5" y="64.5">Estudo contrastado do cólon (enema opaco)</text></g>
<g id="n-psof-sigmoid"><rect class="G" x="1431" y="94" width="201" height="29.6" rx="8"/><text x="1531.5" y="113">PSOF e sigmoidoscopia flexível</text></g>
<g id="n-sigmoid"><rect class="G" x="1475" y="140" width="157" height="29.5" rx="8"/><text x="1553.5" y="158.8">Sigmoidoscopia flexível</text></g>
<g id="n-colono-virtual-s"><rect class="G" x="1495" y="187.5" width="137" height="28.5" rx="8"/><text x="1563.5" y="205.5">Colonoscopia virtual</text></g>
<g id="n-reto-sempre"><rect class="V" x="1376.6" y="236" width="255.4" height="127.6" rx="8"/><text x="1504.3" y="252.8"><tspan x="1504.3">Reto sempre envolvido;</tspan><tspan x="1504.3" dy="14.55">Envolvimento uniformemente contínuo;</tspan><tspan x="1504.3" dy="14.55">Perda do padrão vascular;</tspan><tspan x="1504.3" dy="14.55">Enantema difuso;</tspan><tspan x="1504.3" dy="14.55">Aspecto granular da mucosa;</tspan><tspan x="1504.3" dy="14.55">Não há fístulas;</tspan><tspan x="1504.3" dy="14.55">Aparência normal do íleo terminal;</tspan><tspan x="1504.3" dy="14.55">Ausência de estenose</tspan></text></g>
<g id="n-reto-poupado"><rect class="V" x="1396" y="451.6" width="236" height="128.4" rx="8"/><text x="1514" y="467.8"><tspan x="1514">Reto frequentemente poupado;</tspan><tspan x="1514" dy="14.55">Lesões saltitadas;</tspan><tspan x="1514" dy="14.55">Úlceras aftoides;</tspan><tspan x="1514" dy="14.55">Aspecto em pedra de calçamento;</tspan><tspan x="1514" dy="14.55">Úlceras longitudinais e serpiginosas;</tspan><tspan x="1514" dy="14.55">Fístulas;</tspan><tspan x="1514" dy="14.55">Ulceração no íleo terminal;</tspan><tspan x="1514" dy="14.55">Presença de estenose</tspan></text></g>
<g id="n-colonoscopia-s"><rect class="G" x="1283" y="390" width="95" height="27" rx="8"/><text x="1330.5" y="407.5">Colonoscopia</text></g>
<g id="n-toque"><rect class="G" x="1291" y="520" width="85.6" height="27" rx="8"/><text x="1334" y="537.5">Toque retal</text></g>
<g id="n-tuberculose"><rect class="U" x="1323" y="596.5" width="89" height="39" rx="8"/><text x="1367.5" y="612.7"><tspan x="1367.5">Tuberculose</tspan><tspan x="1367.5" dy="14.55">intestinal</tspan></text></g>
<g id="n-ameboma"><rect class="U" x="1329" y="740" width="78" height="25.6" rx="8"/><text x="1368" y="757">Ameboma</text></g>
<g id="n-crohn"><rect class="U" x="1455.5" y="671" width="119.5" height="27.6" rx="8"/><text x="1515" y="688.6">Doença de Crohn</text></g>
<g id="n-eficiencia"><rect class="K" x="1299.5" y="777" width="334.5" height="148.6" rx="8"/><text x="1467" y="796.4"><tspan x="1467">A eficiência dependerá do grau de hidratação fecal,</tspan><tspan x="1467" dy="14.55">que aumenta a sensibilidade, do volume da</tspan><tspan x="1467" dy="14.55">degradação de hemoglobina, que diminui a</tspan><tspan x="1467" dy="14.55">sensibilidade, e da ausência de substâncias que</tspan><tspan x="1467" dy="14.55">interferem com a oxidação do corante indicador,</tspan><tspan x="1467" dy="14.55">tais como o ácido ascórbico. Lembrar que alimentos</tspan><tspan x="1467" dy="14.55">que contêm atividade de peroxidase, ou</tspan><tspan x="1467" dy="14.55">pseudoperoxidase, podem provocar reações</tspan><tspan x="1467" dy="14.55">positivas (brócolis, couve-flor, melão, entre outros)</tspan></text></g>
<g id="n-pesquisa"><rect class="K" x="1342" y="1004.8" width="281.5" height="148.2" rx="8"/><text x="1482.7" y="1024"><tspan x="1482.7">A pesquisa de sangue oculto nas fezes</tspan><tspan x="1482.7" dy="14.55">poderá ser importante na detecção precoce</tspan><tspan x="1482.7" dy="14.55">de pólipos e/ou neoplasias em fase</tspan><tspan x="1482.7" dy="14.55">assintomática, principalmente quando</tspan><tspan x="1482.7" dy="14.55">utilizada em pacientes pertencentes a</tspan><tspan x="1482.7" dy="14.55">grupos de risco ou, então, na presença</tspan><tspan x="1482.7" dy="14.55">de anemia. Esses testes (Hemocult,</tspan><tspan x="1482.7" dy="14.55">Hemocult II) estão disponíveis com</tspan><tspan x="1482.7" dy="14.55">facilidade, são baratos e fáceis de realizar</tspan></text></g>
<g id="n-normalizacao"><rect class="K" x="1355.7" y="1191.8" width="260" height="90.7" rx="8"/><text x="1485.7" y="1211.8"><tspan x="1485.7">Se ocorrer normalização dos níveis de</tspan><tspan x="1485.7" dy="14.55">CEA após a cirurgia e, no período de</tspan><tspan x="1485.7" dy="14.55">seguimento, eles voltarem a apresentar</tspan><tspan x="1485.7" dy="14.55">elevação progressiva, isso é sinal</tspan><tspan x="1485.7" dy="14.55">indicativo de recorrência da doença</tspan></text></g>
<g id="n-persistencia"><rect class="K" x="1370.6" y="1362.8" width="232.4" height="75.8" rx="8"/><text x="1486.8" y="1383"><tspan x="1486.8">A persistência do CEA elevado,</tspan><tspan x="1486.8" dy="14.55">mesmo após a ressecção</tspan><tspan x="1486.8" dy="14.55">cirúrgica de um <tspan class="b">TMCR</tspan>, é indicativa</tspan><tspan x="1486.8" dy="14.55">de péssimo prognóstico</tspan></text></g>
<g id="n-cea-nao"><rect class="K" x="1334.7" y="1525.5" width="300.3" height="104.5" rx="8"/><text x="1485" y="1544.8"><tspan x="1485">O CEA não é um método acurado para o</tspan><tspan x="1485" dy="14.55">diagnóstico dos <tspan class="b">TMCR</tspan>, porém tem valor como</tspan><tspan x="1485" dy="14.55">teste preditivo, para avaliação de resultados</tspan><tspan x="1485" dy="14.55">terapêuticos e, principalmente, para a</tspan><tspan x="1485" dy="14.55">detecção precoce de metástases após</tspan><tspan x="1485" dy="14.55">procedimentos cirúrgicos</tspan></text></g>
<g id="n-elevacao"><rect class="K" x="1350.7" y="1713.8" width="268.3" height="118" rx="8"/><text x="1485" y="1732.3"><tspan x="1485">A elevação do nível sérico do CEA não</tspan><tspan x="1485" dy="14.55">é específica para os <tspan class="b">TMCR</tspan>, podendo</tspan><tspan x="1485" dy="14.55">acontecer também em outras neoplasias,</tspan><tspan x="1485" dy="14.55">gastrintestinais ou não, além de esse</tspan><tspan x="1485" dy="14.55">nível se apresentar também</tspan><tspan x="1485" dy="14.55">alterado nas doenças inflamatórias</tspan><tspan x="1485" dy="14.55">e nos indivíduos tabagistas</tspan></text></g>
<g id="n-proteinas"><rect class="K" x="1271" y="1839" width="156" height="74" rx="8"/><text x="1349" y="1857.6"><tspan x="1349">A avaliação das</tspan><tspan x="1349" dy="14.55">proteínas séricas</tspan><tspan x="1349" dy="14.55">indicará a situação</tspan><tspan x="1349" dy="14.55">nutricional do paciente</tspan></text></g>
<g id="n-antigeno"><rect class="K" x="1359" y="1921" width="252" height="145.5" rx="8"/><text x="1485" y="1941"><tspan x="1485">O antígeno carcinoembriogênico (CEA)</tspan><tspan x="1485" dy="14.55">é uma glicoproteína encontrada na</tspan><tspan x="1485" dy="14.55">membrana celular de muitos tecidos,</tspan><tspan x="1485" dy="14.55">inclusive nos cânceres do cólon e reto,</tspan><tspan x="1485" dy="14.55">e os antígenos são detectados no</tspan><tspan x="1485" dy="14.55">sangue através de técnicas de</tspan><tspan x="1485" dy="14.55">radioimunoensaio, sendo encontrados,</tspan><tspan x="1485" dy="14.55">também, em outros fluidos, como</tspan><tspan x="1485" dy="14.55">urina e fezes</tspan></text></g>
<g id="n-hemograma"><rect class="K" x="1184.8" y="2038" width="168.7" height="103.5" rx="8"/><text x="1269" y="2056.5"><tspan x="1269">Através do hemograma,</tspan><tspan x="1269" dy="14.55">poderemos detectar a</tspan><tspan x="1269" dy="14.55">anemia, e uma fosfatase</tspan><tspan x="1269" dy="14.55">alcalina alterada poderá</tspan><tspan x="1269" dy="14.55">significar a presença de</tspan><tspan x="1269" dy="14.55">metástases hepáticas</tspan></text></g>
<g id="n-nao-existe"><rect class="K" x="1389.8" y="2154.8" width="190.2" height="59.8" rx="8"/><text x="1485" y="2173"><tspan x="1485">Não existe especificidade de</tspan><tspan x="1485" dy="14.55">exames laboratoriais para o</tspan><tspan x="1485" dy="14.55">diagnóstico dos <tspan class="b">TMCR</tspan></tspan></text></g>
<g id="n-exames-lab"><rect class="E" x="1406.8" y="2291" width="153.8" height="29" rx="8"/><text x="1483.7" y="2310">Exames de laboratório</text></g>
<g id="n-radiologicos"><rect class="E" x="38.6" y="1269" width="142.8" height="31.8" rx="8"/><text x="110" y="1288.5">Exames radiológicos</text></g>
<g id="n-rotina"><rect class="K" x="159" y="1321.5" width="242" height="73.5" rx="8"/><text x="280" y="1340"><tspan x="280">Devem ser considerados como</tspan><tspan x="280" dy="14.55">procedimentos de rotina, em</tspan><tspan x="280" dy="14.55">pacientes com <tspan class="b">TMCR</tspan>, para</tspan><tspan x="280" dy="14.55">avaliação de metástases pulmonares</tspan></text></g>
<g id="n-atualmente"><rect class="K" x="11.4" y="1403.8" width="163.6" height="88.4" rx="8"/><text x="93.2" y="1421.6"><tspan x="93.2">Atualmente, com a</tspan><tspan x="93.2" dy="14.55">disseminação do uso de</tspan><tspan x="93.2" dy="14.55">colonoscopia, o exame</tspan><tspan x="93.2" dy="14.55">de enema opaco passou</tspan><tspan x="93.2" dy="14.55">a ser pouco utilizado</tspan></text></g>
<g id="n-estudo-enema"><rect class="K" x="177.5" y="1464" width="207.5" height="76.8" rx="8"/><text x="281.2" y="1484.7"><tspan x="281.2">O estudo contrastado do cólon</tspan><tspan x="281.2" dy="14.55">(enema opaco) representa</tspan><tspan x="281.2" dy="14.55">importante método diagnóstico</tspan><tspan x="281.2" dy="14.55">para revelar <tspan class="b">TMCR</tspan></tspan></text></g>
<g id="n-obstrutivos"><rect class="K" x="11.4" y="1572.5" width="204" height="118.3" rx="8"/><text x="113.4" y="1591.5"><tspan x="113.4">Em situações de quadros</tspan><tspan x="113.4" dy="14.55">obstrutivos, a radiografia</tspan><tspan x="113.4" dy="14.55">simples do abdome poderá</tspan><tspan x="113.4" dy="14.55">mostrar a distensão das alças,</tspan><tspan x="113.4" dy="14.55">além de permitir a localização</tspan><tspan x="113.4" dy="14.55">do local obstruído, facilitando</tspan><tspan x="113.4" dy="14.55">a abordagem cirúrgica</tspan></text></g>
<g id="n-rigida"><rect class="K" x="11.4" y="1705.4" width="221.5" height="59.2" rx="8"/><text x="122" y="1724"><tspan x="122">Nos locais comprometidos, a</tspan><tspan x="122" dy="14.55">parede intestinal torna-se rígida,</tspan><tspan x="122" dy="14.55">com destruição do relevo mucoso</tspan></text></g>
<g id="n-constricao"><rect class="K" x="11.4" y="1779.8" width="247.6" height="57.9" rx="8"/><text x="135.2" y="1799"><tspan x="135.2">No cólon direito, a lesão apresenta-se</tspan><tspan x="135.2" dy="14.55">sob forma de constrição ou, então,</tspan><tspan x="135.2" dy="14.55">de massa intraluminar</tspan></text></g>
<g id="n-guardanapo"><rect class="K" x="11.4" y="1855.5" width="260" height="76.5" rx="8"/><text x="141.4" y="1875.8"><tspan x="141.4">O carcinoma do cólon esquerdo aparece</tspan><tspan x="141.4" dy="14.55">como imagem de "defeito de</tspan><tspan x="141.4" dy="14.55">enchimento", com extensão de 2 a 6</tspan><tspan x="141.4" dy="14.55">cm e aspecto de "anel de guardanapo"</tspan></text></g>
<g id="n-tomografia"><rect class="E" x="32" y="1953" width="194.4" height="46.5" rx="8"/><text x="129.2" y="1972"><tspan x="129.2">Tomografia computadorizada</tspan><tspan x="129.2" dy="14.55">e ressonância magnética</tspan></text></g>
<g id="n-colono-virtual"><rect class="E" x="58.2" y="2128" width="140.8" height="31.3" rx="8"/><text x="128.6" y="2147.5">Colonoscopia virtual</text></g>
<g id="n-colonoscopia"><rect class="E" x="32" y="2243.8" width="99.4" height="30.2" rx="8"/><text x="81.7" y="2263">Colonoscopia</text></g>
<g id="n-toda-extensao"><rect class="K" x="228.6" y="2211.6" width="224.3" height="104.2" rx="8"/><text x="340.7" y="2230.7"><tspan x="340.7">Permite o exame de toda a</tspan><tspan x="340.7" dy="14.55">extensão do cólon, obtendo-se</tspan><tspan x="340.7" dy="14.55">não somente a detecção precoce</tspan><tspan x="340.7" dy="14.55">de pólipos e sua remoção através</tspan><tspan x="340.7" dy="14.55">de alças diatérmicas, mas</tspan><tspan x="340.7" dy="14.55">também o diagnóstico dos <tspan class="b">TMCR</tspan></tspan></text></g>
<g id="n-mesmo"><rect class="K" x="594.6" y="2197.6" width="258.4" height="118.2" rx="8"/><text x="723.8" y="2216.3"><tspan x="723.8">Mesmo nas situações em que o exame</tspan><tspan x="723.8" dy="14.55">radiológico (enema opaco) já tenha</tspan><tspan x="723.8" dy="14.55">fornecido o diagnóstico de um <tspan class="b">TMCR</tspan>, a</tspan><tspan x="723.8" dy="14.55">colonoscopia deverá ser realizada no</tspan><tspan x="723.8" dy="14.55">sentido de confirmar a natureza da</tspan><tspan x="723.8" dy="14.55">lesão, além de detectar a presença de</tspan><tspan x="723.8" dy="14.55">pólipos e/ou tumores sincrônicos</tspan></text></g>
<g id="n-enema-opaco"><rect class="K" x="981" y="2168" width="310" height="147" rx="8"/><text x="1136" y="2187"><tspan x="1136">O enema opaco poderá não identificar lesões de</tspan><tspan x="1136" dy="14.55">até 5 mm em cerca de 20% dos casos, mas</tspan><tspan x="1136" dy="14.55">também a colonoscopia poderá deixar passar</tspan><tspan x="1136" dy="14.55">pequenas lesões junto às flexuras e/ou</tspan><tspan x="1136" dy="14.55">dobras do cólon, e o ceco nem sempre é</tspan><tspan x="1136" dy="14.55">alcançado em todos os pacientes. Dessa</tspan><tspan x="1136" dy="14.55">forma, uma colonoscopia incompleta ou</tspan><tspan x="1136" dy="14.55">inconclusiva deverá ser completada pelo</tspan><tspan x="1136" dy="14.55">enema opaco com duplo contraste</tspan></text></g>
<g id="n-insuflacao"><rect class="K" x="342" y="2008" width="238" height="149.8" rx="8"/><text x="461" y="2029.2"><tspan x="461">É realizada com a insuflação de ar</tspan><tspan x="461" dy="14.55">no cólon e a obtenção de imagens</tspan><tspan x="461" dy="14.55">virtuais tridimensionais do cólon,</tspan><tspan x="461" dy="14.55">permindo também a detecção de</tspan><tspan x="461" dy="14.55">lesões maiores do que 0,5 cm.</tspan><tspan x="461" dy="14.55">Além disso, tem a vantagem de</tspan><tspan x="461" dy="14.55">não introduzir qualquer instrumento</tspan><tspan x="461" dy="14.55">no paciente, além de não ser</tspan><tspan x="461" dy="14.55">necessária a utilização de sedação</tspan></text></g>
<g id="n-necessidade"><rect class="K" x="681" y="2039" width="272" height="90" rx="8"/><text x="817" y="2058.4"><tspan x="817">A necessidade de tomógrafos de</tspan><tspan x="817" dy="14.55">alta resolução com o sistema</tspan><tspan x="817" dy="14.55"><tspan class="i">multi-slice</tspan> , ainda não disponibilizado</tspan><tspan x="817" dy="14.55">de forma mais generalizada, tem limitado</tspan><tspan x="817" dy="14.55">também a indicação deste método</tspan></text></g>
<g id="n-nao-importantes"><rect class="K" x="342" y="1906.7" width="288" height="75.7" rx="8"/><text x="486" y="1927"><tspan x="486">Não são importantes para o diagnóstico dos</tspan><tspan x="486" dy="14.55"><tspan class="b">TMCR</tspan>, porém servem para avaliar o</tspan><tspan x="486" dy="14.55">comprometimento extramural no câncer do</tspan><tspan x="486" dy="14.55">reto e para a detecção de metástases</tspan></text></g>
<g id="n-ultrassom"><rect class="E" x="336.8" y="1831.7" width="184.6" height="30.3" rx="8"/><text x="429" y="1850.5">Ultrassonografia endorretal</text></g>
<g id="n-acurada"><rect class="K" x="619" y="1789" width="289" height="118.4" rx="8"/><text x="763.5" y="1808.4"><tspan x="763.5">Permite uma acurada avaliação do grau de</tspan><tspan x="763.5" dy="14.55">comprometimento da parede intestinal no</tspan><tspan x="763.5" dy="14.55">câncer retal, além da demonstração da</tspan><tspan x="763.5" dy="14.55">presença de linfonodos aumentados. Porém,</tspan><tspan x="763.5" dy="14.55">não é capaz de distinguir se o aumento do</tspan><tspan x="763.5" dy="14.55">linfonodo é decorrente de processo reativo</tspan><tspan x="763.5" dy="14.55">ou por infiltração neoplásica</tspan></text></g>
<g id="n-contraste-vr"><rect class="K" x="638" y="1638" width="255.6" height="72" rx="8"/><text x="765.8" y="1656.5"><tspan x="765.8">A tomografia poderá ser realizada</tspan><tspan x="765.8" dy="14.55">também com a administração do</tspan><tspan x="765.8" dy="14.55">contraste VR, permitindo, desta forma,</tspan><tspan x="765.8" dy="14.55">também o estudo do lúmen intestinal</tspan></text></g>
<g id="n-petscan"><rect class="E" x="668" y="1960.8" width="80" height="28.2" rx="8"/><text x="708" y="1979">PET-SCAN</text></g>
<g id="n-positrons"><rect class="K" x="943.6" y="1819.5" width="236.4" height="92.5" rx="8"/><text x="1061.8" y="1841.7"><tspan x="1061.8">É uma tomografia por emissão</tspan><tspan x="1061.8" dy="14.55">de pósitrons, que obtém imagens</tspan><tspan x="1061.8" dy="14.55">do metabolismo celular com a</tspan><tspan x="1061.8" dy="14.55">utilização de um radiomarcador</tspan><tspan x="1061.8" dy="14.55">(FDG), que é um análogo da glicose</tspan></text></g>
<g id="n-sensibilidade"><rect class="K" x="890" y="1931" width="290" height="90" rx="8"/><text x="1035" y="1950.4"><tspan x="1035">Possui sensibilidade excelente para captação</tspan><tspan x="1035" dy="14.55">de lesões a partir de 1 cm, porém esta</tspan><tspan x="1035" dy="14.55">sensibilidade poderá ser alterada pela</tspan><tspan x="1035" dy="14.55">hiperglicemia e os pacientes deverão estar</tspan><tspan x="1035" dy="14.55">em jejum para a realização do exame</tspan></text></g>
<g id="n-rotina-pet"><rect class="K" x="964" y="2068.8" width="216" height="89" rx="8"/><text x="1072" y="2089.5"><tspan x="1072">Poderá ser utilizado de rotina no</tspan><tspan x="1072" dy="14.55">acompanhamento periódico</tspan><tspan x="1072" dy="14.55">dos pacientes operados, porém</tspan><tspan x="1072" dy="14.55">com limitação decorrente do</tspan><tspan x="1072" dy="14.55">seu elevado custo</tspan></text></g>
<g id="n-retossigmoidoscopia"><rect class="E" x="651.8" y="1529" width="144.6" height="30" rx="8"/><text x="724.1" y="1548">Retossigmoidoscopia</text></g>
<g id="n-retossigmoidoscopio"><rect class="K" x="903.6" y="1471" width="234.4" height="59.5" rx="8"/><text x="1020.8" y="1489.3"><tspan x="1020.8">A utilização do retossigmoidoscópio</tspan><tspan x="1020.8" dy="14.55">flexível de 60 cm permite ao</tspan><tspan x="1020.8" dy="14.55">melhor diagnóstico dos tumores</tspan></text></g>
<g id="n-sensib-superior"><rect class="K" x="903.6" y="1542" width="246.4" height="88" rx="8"/><text x="1026.8" y="1562"><tspan x="1026.8">Para o câncer colorretal, apresenta</tspan><tspan x="1026.8" dy="14.55">uma sensibilidade superior à da</tspan><tspan x="1026.8" dy="14.55">tomografia computadorizada ou da</tspan><tspan x="1026.8" dy="14.55">ressonância magnética para a detecção</tspan><tspan x="1026.8" dy="14.55">de focos metastáticos</tspan></text></g>
<g id="n-imagens"><rect class="K" x="903.6" y="1648" width="280" height="87" rx="8"/><text x="1043.6" y="1667"><tspan x="1043.6">As imagens obtidas refletem a penetração</tspan><tspan x="1043.6" dy="14.55">da glicose nas células tumorais, em virtude</tspan><tspan x="1043.6" dy="14.55">de estas células apresentarem uma</tspan><tspan x="1043.6" dy="14.55">atividade de glicólise maior do que nos</tspan><tspan x="1043.6" dy="14.55">tecidos normais</tspan></text></g>
</g>
<g id="labels" class="lb">
<text class="lb" x="407" y="31.6">além disso</text>
<text class="lb" x="663" y="128">sendo que</text>
<text class="lb" x="662" y="256">sendo a sua</text>
<text class="lb" x="511" y="308">apresentando</text>
<text class="lb" x="662" y="369">sendo que</text>
<text class="lb" x="661" y="479">apresenta</text>
<text class="lb" x="337" y="264">o que pode ser atribuído a</text>
<text class="lb" x="338" y="427">porém</text>
<text class="lb b" x="462.5" y="437.6">manifestações clínicas</text>
<text class="lb" x="110.7" y="732">nela</text>
<text class="lb" x="322.5" y="848">sendo que</text>
<text class="lb" x="111.8" y="896">além disso</text>
<text class="lb" x="293" y="965">além disso</text>
<text class="lb" x="112.5" y="1048">geralmente</text>
<text class="lb b" x="660.7" y="575">fisiopatologia</text>
<text class="lb" x="587" y="739">porém</text>
<text class="lb" x="540.4" y="914">além disso</text>
<text class="lb" x="540.4" y="1022">e</text>
<text class="lb" x="674.5" y="1029.8">porém</text>
<text class="lb" x="540.4" y="1149.6">ademais</text>
<text class="lb" x="541" y="1293">e</text>
<text class="lb" x="720" y="1361">além disso</text>
<text class="lb" x="541" y="1422">além disso</text>
<text class="lb" x="842" y="1504">sendo que</text>
<text class="lb" x="541" y="1540">valendo ressaltar que</text>
<text class="lb" x="541" y="1668">e</text>
<text class="lb b" x="821.5" y="524.5">fatores de risco</text>
<text class="lb" x="1133" y="679">sendo que</text>
<text class="lb" x="1075.7" y="136">sendo que</text>
<text class="lb" x="1137" y="997">assim</text>
<text class="lb" x="1137" y="1149.6">sendo que</text>
<text class="lb" x="1139" y="1300">além disso</text>
<text class="lb" x="824.6" y="847">porém</text>
<text class="lb b" x="1218.5" y="471">screening</text>
<text class="lb" x="1506" y="416.5">enquanto no <tspan class="b">CCR</tspan> há</text>
<text class="lb" x="1515" y="630.7">características</text>
<text class="lb" x="1367" y="684.6"><tspan x="1367">outros <tspan class="b">diagnósticos</tspan></tspan><tspan x="1367" dy="14.55" class="b">diferenciais</tspan></text>
<text class="lb" x="1513" y="741"><tspan x="1513">útil para <tspan class="b">diagnóstico</tspan></tspan><tspan x="1515" dy="14.55"><tspan class="b">diferencial</tspan> com</tspan></text>
<text class="lb" x="1468" y="974">entretanto</text>
<text class="lb" x="1269" y="1992">além disso</text>
<text class="lb" x="1485.7" y="1331.6">porém</text>
<text class="lb" x="1485" y="1490">além disso</text>
<text class="lb" x="1485" y="1680.6">assim</text>
<text class="lb" x="1485" y="1885">porém</text>
<text class="lb" x="1485" y="2093">porém</text>
<text class="lb" x="1485" y="2259">sendo que</text>
<text class="lb b" x="210" y="1226">exames para diagnóstico</text>
<text class="lb" x="281" y="1287">que</text>
<text class="lb" x="281" y="1433">sendo que</text>
<text class="lb" x="92" y="1542">porém</text>
<text class="lb" x="281" y="1578">sendo que</text>
<text class="lb" x="273" y="1983.8">que</text>
<text class="lb" x="129.3" y="2046"><tspan x="129.3">sendo que o advento dos modernos</tspan><tspan x="129.3" dy="14.55">tomógrafos de alta resolução tipo</tspan><tspan x="129.3" dy="14.55"><tspan class="i">multi-slice</tspan>  permitiu a elaboração</tspan><tspan x="129.3" dy="14.55">da chamada</tspan></text>
<text class="lb" x="264" y="2157">que</text>
<text class="lb" x="172.5" y="2262">que</text>
<text class="lb" x="520.7" y="2258.4">no entanto</text>
<text class="lb" x="911.4" y="2250.4">além disso</text>
<text class="lb" x="625.7" y="2088">porém</text>
<text class="lb" x="567" y="1850">que</text>
<text class="lb" x="765.7" y="1755.4">ainda</text>
<text class="lb" x="793" y="1978.8">que</text>
<text class="lb" x="1042" y="1785.7">sendo que</text>
<text class="lb" x="1070" y="2049">além disso</text>
<text class="lb" x="853" y="1549.8">sendo que</text>
</g>
</svg>
